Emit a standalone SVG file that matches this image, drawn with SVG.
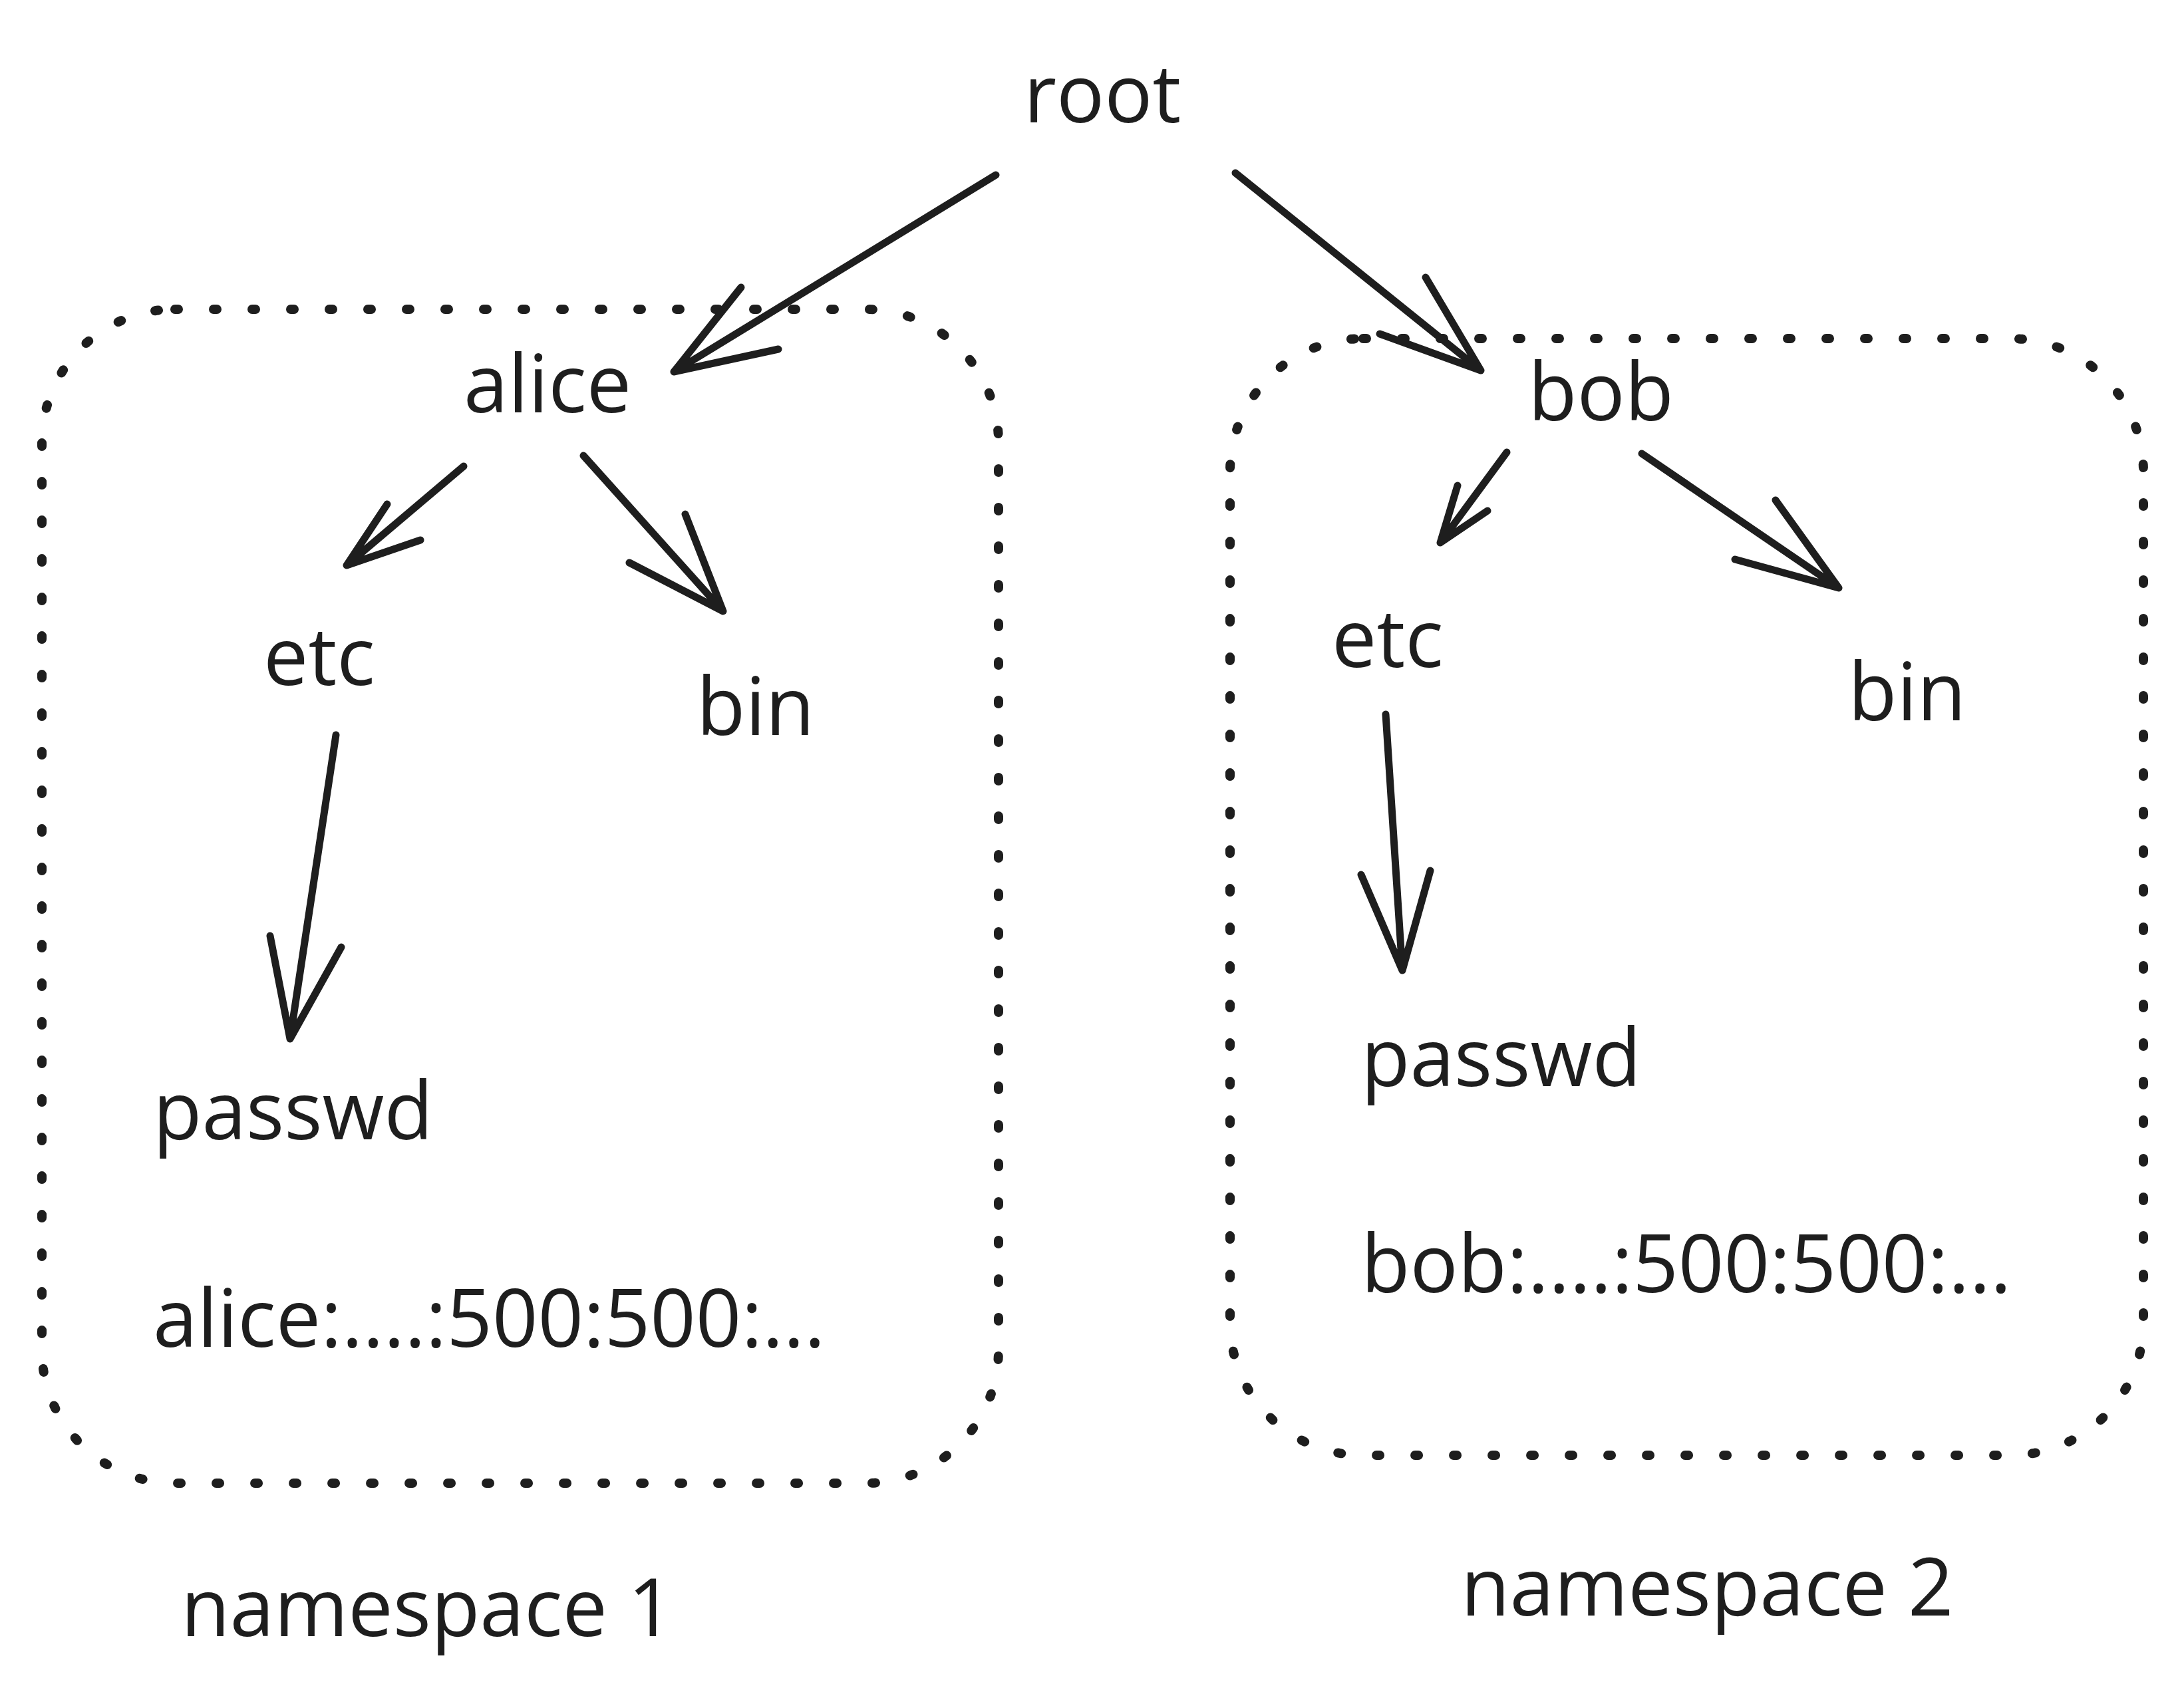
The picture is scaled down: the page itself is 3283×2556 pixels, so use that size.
<svg xmlns="http://www.w3.org/2000/svg" width="3283" height="2556" viewBox="0 0 3283 2556">
<style>
.t{font-family:"Open Sans","Noto Sans",sans-serif;font-size:120px;font-weight:500;fill:#1e1e1e}
.box{fill:none;stroke:#1e1e1e;stroke-width:14;stroke-linecap:round;stroke-dasharray:5 53}
.c{fill:none;stroke:#1e1e1e;stroke-width:11;stroke-linecap:round;stroke-linejoin:round}
</style>
<rect width="3283" height="2556" fill="#ffffff"/>
<g id="namespace1">
<rect class="box" x="63" y="465" width="1438" height="1765" rx="200" ry="200"/>
<text class="t" x="272" y="2460">namespace 1</text>
</g>
<g id="namespace2">
<rect class="box" x="1849" y="509" width="1373" height="1679" rx="200" ry="200"/>
<text class="t" x="2196" y="2429">namespace 2</text>
</g>
<g id="root"><text class="t" x="1539" y="184">root</text></g>
<g id="alice"><text class="t" x="697" y="620">alice</text></g>
<g id="etc1"><text class="t" x="396" y="1030">etc</text></g>
<g id="bin1"><text class="t" x="1047" y="1105">bin</text></g>
<g id="passwd1"><text class="t" x="230" y="1713">passwd</text>
<text class="t" x="230" y="2025">alice:....:500:500:...</text></g>
<g id="bob"><text class="t" x="2297" y="632">bob</text></g>
<g id="etc2"><text class="t" x="2002" y="1003">etc</text></g>
<g id="bin2"><text class="t" x="2778" y="1083">bin</text></g>
<g id="passwd2"><text class="t" x="2046" y="1633">passwd</text>
<text class="t" x="2046" y="1943">bob:....:500:500:...</text></g>
<g id="connectors">
<path class="c" d="M1497 263 L1013 559 M1114 432 L1013 559 L1170 525"/>
<path class="c" d="M1857 260 L2226 557 M2143 417 L2226 557 L2074 502"/>
<path class="c" d="M697 701 L521 850 M582 758 L521 850 L632 812"/>
<path class="c" d="M877 685 L1087 919 M1030 773 L1087 919 L946 846"/>
<path class="c" d="M505 1105 L436 1562 M406 1407 L436 1562 L513 1424"/>
<path class="c" d="M2265 680 L2165 816 M2191 730 L2165 816 L2236 768"/>
<path class="c" d="M2468 682 L2764 884 M2669 752 L2764 884 L2608 841"/>
<path class="c" d="M2083 1074 L2108 1459 M2046 1315 L2108 1459 L2150 1309"/>
</g>
</svg>
